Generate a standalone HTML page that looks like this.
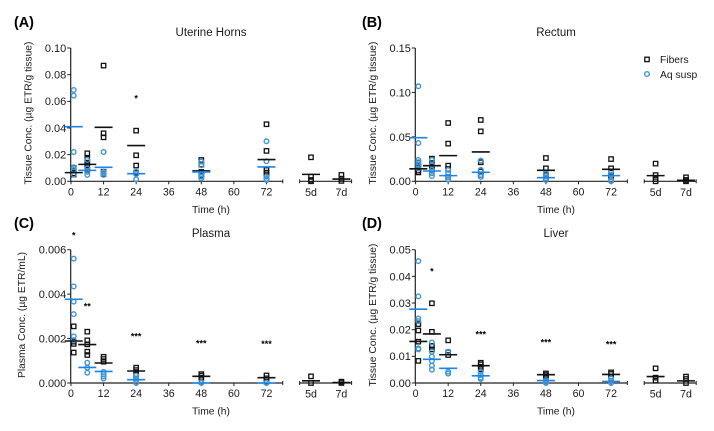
<!DOCTYPE html>
<html lang="en">
<head>
<meta charset="utf-8">
<title>ETR tissue concentration charts</title>
<style>
html,body{margin:0;padding:0;background:#fff;width:714px;height:431px;overflow:hidden}
svg{display:block;filter:blur(.35px)}
text{font-family:"Liberation Sans",Arial,sans-serif;fill:#1a1a1a}
.tick{font-size:10.6px}
.ytick{font-size:11px;text-anchor:end}
.atitle{font-size:10.3px}
.ptitle{font-size:11.5px;text-anchor:middle}
.letter{font-size:14.4px;font-weight:bold;fill:#000}
.star{font-size:9px;font-weight:bold;text-anchor:middle;fill:#000}
</style>
</head>
<body>
<svg id="chart" xmlns="http://www.w3.org/2000/svg" width="714" height="431" viewBox="0 0 714 431">
  <rect width="714" height="431" fill="#fff"/>

  <text class="letter" x="14" y="27">(A)</text>
  <text class="letter" x="362" y="27">(B)</text>
  <text class="letter" x="14" y="228">(C)</text>
  <text class="letter" x="362" y="228">(D)</text>

  <text class="ptitle" x="211" y="36">Uterine Horns</text>
  <text class="ptitle" x="556" y="36">Rectum</text>
  <text class="ptitle" x="211" y="237">Plasma</text>
  <text class="ptitle" x="556" y="237">Liver</text>

  <text class="atitle" x="211" y="213" text-anchor="middle">Time (h)</text>
  <text class="atitle" x="556" y="213" text-anchor="middle">Time (h)</text>
  <text class="atitle" x="211" y="414.5" text-anchor="middle">Time (h)</text>
  <text class="atitle" x="556" y="414.5" text-anchor="middle">Time (h)</text>

  <text class="atitle" text-anchor="middle" transform="translate(31.5,113) rotate(-90)">Tissue Conc. (µg ETR/g tissue)</text>
  <text class="atitle" text-anchor="middle" transform="translate(376,113) rotate(-90)">Tissue Conc. (µg ETR/g tissue)</text>
  <text class="atitle" text-anchor="middle" transform="translate(25,315) rotate(-90)">Plasma Conc. (µg ETR/mL)</text>
  <text class="atitle" text-anchor="middle" transform="translate(376,315) rotate(-90)">Tissue Conc. (µg ETR/g tissue)</text>

  <g>
    <rect x="644.8" y="57.2" width="4.4" height="4.4" fill="none" stroke="#111" stroke-width="1.3"/>
    <text x="660" y="63" font-size="10.3px">Fibers</text>
    <circle cx="647" cy="74" r="2.3" fill="none" stroke="#3f95d6" stroke-width="1.4"/>
    <text x="660" y="78" font-size="10.3px">Aq susp</text>
  </g>
</svg>
<script>
// ---- categories and ticks ----
const hourCategories = [1, 6, 12, 24, 48, 72];
const dayCategories = [5, 7];
const dayLabels = ['5d', '7d'];
const hourTicks = [0, 12, 24, 36, 48, 60, 72];

const yTicksA = [0, 0.02, 0.04, 0.06, 0.08, 0.10];
const yTickLabelsA = ['0.00', '0.02', '0.04', '0.06', '0.08', '0.10'];
const yTicksB = [0, 0.05, 0.10, 0.15];
const yTickLabelsB = ['0.00', '0.05', '0.10', '0.15'];
const yTicksC = [0, 0.002, 0.004, 0.006];
const yTickLabelsC = ['0.000', '0.002', '0.004', '0.006'];
const yTicksD = [0, 0.01, 0.02, 0.03, 0.04, 0.05];
const yTickLabelsD = ['0.00', '0.01', '0.02', '0.03', '0.04', '0.05'];

// ---- Panel A: Uterine Horns (groups: 1,6,12,24,48,72 h, 5d, 7d) ----
const fibersA = [
  [0.010, 0.008, 0.006, 0.005],
  [0.021, 0.017, 0.014, 0.012, 0.0085],
  [0.0868, 0.036, 0.033, 0.0072, 0.0055],
  [0.038, 0.0195, 0.0118, 0.0065],
  [0.016, 0.0125, 0.007, 0.005, 0.004],
  [0.0428, 0.0228, 0.0085, 0.0065, 0.004],
  [0.018, 0.0035, 0.001, 0],
  [0.0048, 0.002, 0.0003]
];
const fibersMeanA = [0.0065, 0.0127, 0.0405, 0.0268, 0.0078, 0.0163, 0.0052, 0.0017];
const aqA = [
  [0.0685, 0.0643, 0.022, 0.0105, 0.0085, 0.005],
  [0.016, 0.0097, 0.0072, 0.0048],
  [0.022, 0.0072, 0.006, 0.0048],
  [0.0072, 0.0055, 0.0015],
  [0.0148, 0.012, 0.005, 0.0035, 0.0022],
  [0.03, 0.015, 0.0035, 0.0018, 0.001]
];
const aqMeanA = [0.041, 0.0082, 0.0105, 0.0057, 0.007, 0.0108];
const starsA = [{ hour: 24, value: 0.064, label: '*' }];

// ---- Panel B: Rectum ----
const fibersB = [
  [0.021, 0.0176, 0.0146, 0.012, 0.01],
  [0.0255, 0.02, 0.0165, 0.0128],
  [0.0656, 0.0424, 0.0176, 0.0139, 0.005],
  [0.069, 0.0562, 0.0214, 0.011, 0.007],
  [0.0262, 0.0146, 0.007, 0.0035],
  [0.025, 0.0146, 0.007, 0.005],
  [0.0199, 0.007, 0.0026, 0],
  [0.0045, 0.0015, 0]
];
const fibersMeanB = [0.014, 0.0176, 0.0289, 0.033, 0.0124, 0.0135, 0.0064, 0.0011];
const aqB = [
  [0.1069, 0.0431, 0.024, 0.0214, 0.0184, 0.0146],
  [0.024, 0.0184, 0.0128, 0.009, 0.006],
  [0.0128, 0.009, 0.005, 0.002],
  [0.0232, 0.0128, 0.007, 0.005],
  [0.009, 0.006, 0.0034, 0.0015],
  [0.011, 0.007, 0.0015, 0]
];
const aqMeanB = [0.0491, 0.0116, 0.0064, 0.0101, 0.0041, 0.0064];
const starsB = [];

// ---- Panel C: Plasma ----
const fibersC = [
  [0.00255, 0.00186, 0.00176, 0.00137],
  [0.00231, 0.00192, 0.00174, 0.00141, 0.00126],
  [0.00118, 0.00108, 0.00096],
  [0.00069, 0.00058, 0.00039, 0.0002],
  [0.0004, 0.00033, 0.00024],
  [0.00034, 0.00021, 0.00006],
  [0.0003, 0],
  [0.00006, 0]
];
const fibersMeanC = [0.00189, 0.00173, 0.0009, 0.00054, 0.0003, 0.00024, 0.0001, 0.00002];
const aqC = [
  [0.0056, 0.00435, 0.00366, 0.0031, 0.0021, 0.00193],
  [0.00091, 0.00069, 0.00046],
  [0.0005, 0.0004, 0.0003, 0.0002],
  [0.00033, 0.0002, 0.00012, 0],
  [0.00002, 0],
  [0.00002, 0]
];
const aqMeanC = [0.00377, 0.0007, 0.00052, 0.00015, 0, 0];
const starsC = [
  { hour: 1, value: 0.00675, label: '*' },
  { hour: 6, value: 0.00356, label: '**' },
  { hour: 24, value: 0.0022, label: '***' },
  { hour: 48, value: 0.0019, label: '***' },
  { hour: 72, value: 0.00186, label: '***' }
];

// ---- Panel D: Liver ----
const fibersD = [
  [0.0221, 0.0197, 0.0155, 0.0083],
  [0.0299, 0.0192, 0.0139, 0.0126],
  [0.016, 0.0115, 0.0105],
  [0.0076, 0.007, 0.0061, 0.0052],
  [0.0036, 0.003, 0.0024],
  [0.004, 0.0034, 0.0024],
  [0.0055, 0.002, 0.0009],
  [0.0024, 0.0015, 0]
];
const fibersMeanD = [0.0156, 0.0184, 0.0106, 0.0065, 0.0031, 0.0032, 0.0024, 0.0008];
const aqD = [
  [0.0457, 0.0325, 0.0242, 0.0232, 0.013, 0.0126],
  [0.0152, 0.0117, 0.0099, 0.0083, 0.0065, 0.005],
  [0.0117, 0.0042, 0.0035],
  [0.0042, 0.003, 0.002, 0.0015],
  [0.0011, 0.0005, 0],
  [0.0017, 0.0009, 0]
];
const aqMeanD = [0.0277, 0.0089, 0.0055, 0.0027, 0.0009, 0.0006];
const starsD = [
  { hour: 6, value: 0.0428, label: '*' },
  { hour: 24, value: 0.0191, label: '***' },
  { hour: 48, value: 0.0161, label: '***' },
  { hour: 72, value: 0.0154, label: '***' }
];

// ---- rendering ----
const NS = 'http://www.w3.org/2000/svg';
const svg = document.getElementById('chart');
const INK = '#222';
const FIBER = '#111';
const AQ_DOT = '#3f95d6';
const AQ_LINE = '#1a84ea';

function make(tag, attrs, parent) {
  const el = document.createElementNS(NS, tag);
  for (const k in attrs) el.setAttribute(k, attrs[k]);
  parent.appendChild(el);
  return el;
}

function drawPanel(id, left, bottom, top, yMax, yTicks, yLabels, fibers, fibersMean, aq, aqMean, stars) {
  const xAxisLeft = left - 0.3;
  const xHour = h => left + h * 2.715;
  const xDay = d => left + 240 + (d - 5) * 15.2;
  const y = v => bottom - (v / yMax) * (bottom - top);

  const group = make('g', {}, svg);
  
  

  const yAxis = make('line', { x1: xAxisLeft, x2: xAxisLeft, y1: top, y2: bottom + 0.5, stroke: INK, 'stroke-width': 1.2 }, group);
  
  

  const xAxisHours = make('line', { x1: xAxisLeft, x2: xHour(78), y1: bottom, y2: bottom, stroke: INK, 'stroke-width': 1.2 }, group);
  
  

  const xAxisDays = make('line', { x1: left + 228.6, x2: left + 280.6, y1: bottom, y2: bottom, stroke: INK, 'stroke-width': 1.2 }, group);
  
  

  [xHour(78), left + 228.6, left + 280.6].forEach(function (px) {
    const cap = make('line', { x1: px, x2: px, y1: bottom - 2, y2: bottom + 2, stroke: INK, 'stroke-width': 1 }, group);
    
    
  });

  yTicks.forEach(function (v, i) {
    const tick = make('line', { x1: xAxisLeft - 3.5, x2: xAxisLeft, y1: y(v), y2: y(v), stroke: INK, 'stroke-width': 1 }, group);
    
    
    const label = make('text', { class: 'ytick', x: xAxisLeft - 4.4, y: y(v) + 3.9 }, group);
    
    
    label.textContent = yLabels[i];
  });

  hourTicks.forEach(function (h) {
    const px = xHour(h);
    const tick = make('line', { x1: px, x2: px, y1: bottom, y2: bottom + 3, stroke: INK, 'stroke-width': 1 }, group);
    
    
    const label = make('text', { class: 'tick', x: px, y: bottom + 14, 'text-anchor': 'middle' }, group);
    
    
    label.textContent = String(h);
  });

  dayCategories.forEach(function (d, i) {
    const label = make('text', { class: 'tick', x: xDay(d), y: bottom + 14.5, 'text-anchor': 'middle' }, group);
    
    
    label.textContent = dayLabels[i];
  });

  const groupX = i => i < hourCategories.length ? xHour(hourCategories[i]) : xDay(dayCategories[i - hourCategories.length]);

  fibers.forEach(function (values, i) {
    values.forEach(function (v) {
      const m = make('rect', { x: groupX(i) - 2.2, y: y(v) - 2.2, width: 4.4, height: 4.4, fill: 'none', stroke: FIBER, 'stroke-width': 1.3 }, group);
      
      
    });
  });

  aq.forEach(function (values, i) {
    values.forEach(function (v) {
      const m = make('circle', { cx: groupX(i), cy: y(v), r: 2.3, fill: 'none', stroke: AQ_DOT, 'stroke-width': 1.4 }, group);
      
      
    });
  });

  fibersMean.forEach(function (v, i) {
    const m = make('line', { x1: groupX(i) - 9, x2: groupX(i) + 9, y1: y(v), y2: y(v), stroke: FIBER, 'stroke-width': 1.6 }, group);
    
    
  });

  aqMean.forEach(function (v, i) {
    const m = make('line', { x1: groupX(i) - 9, x2: groupX(i) + 9, y1: y(v), y2: y(v), stroke: AQ_LINE, 'stroke-width': 1.6 }, group);
    
    
  });

  stars.forEach(function (s) {
    const t = make('text', { class: 'star', x: xHour(s.hour), y: y(s.value) + 5.5 }, group);
    
    
    t.textContent = s.label;
  });
}

drawPanel('a', 71, 181.3, 48, 0.10, yTicksA, yTickLabelsA, fibersA, fibersMeanA, aqA, aqMeanA, starsA);
drawPanel('b', 415.6, 181.3, 48, 0.15, yTicksB, yTickLabelsB, fibersB, fibersMeanB, aqB, aqMeanB, starsB);
drawPanel('c', 71, 383, 249.7, 0.006, yTicksC, yTickLabelsC, fibersC, fibersMeanC, aqC, aqMeanC, starsC);
drawPanel('d', 415.6, 383, 249.7, 0.05, yTicksD, yTickLabelsD, fibersD, fibersMeanD, aqD, aqMeanD, starsD);
</script>
</body>
</html>
